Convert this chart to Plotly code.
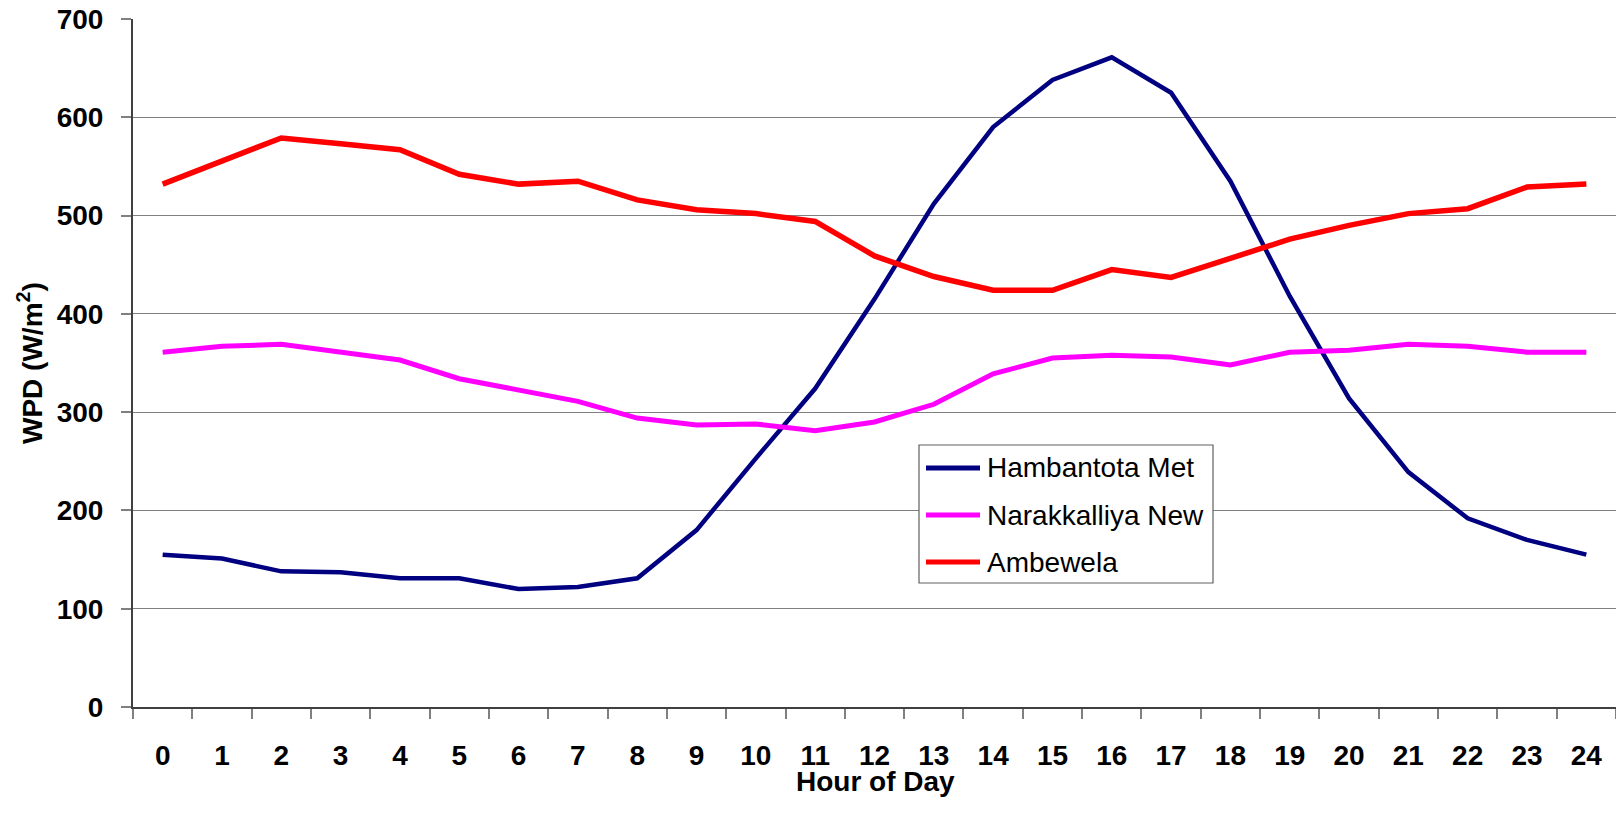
import plotly.graph_objects as go

# Hourly mean wind power density at three sites
hours = [str(h) for h in range(25)]
hambantota_met = [155, 151, 138, 137, 131, 131, 120, 122, 131, 180, 253, 324, 415,
                  512, 590, 638, 661, 625, 535, 418, 314, 239, 192, 170, 155]
narakkalliya_new = [361, 367, 369, 361, 353, 334, 322, 311, 294, 287, 288, 281, 290,
                    308, 339, 355, 358, 356, 348, 361, 363, 369, 367, 361, 361]
ambewela = [532, 556, 579, 573, 567, 542, 532, 535, 516, 506, 502, 494, 459,
            438, 424, 424, 445, 437, 457, 476, 490, 502, 507, 529, 532]

series_names = ["Hambantota Met", "Narakkalliya New", "Ambewela"]
series_colors = ["#000080", "#FF00FF", "#FF0000"]
series_widths = [4.5, 5, 5.5]
y_ticks = [0, 100, 200, 300, 400, 500, 600, 700]

W, H = 1616, 829
L, R, T, B = 133, 0, 19, 122
FONT = "Liberation Sans, Arial, sans-serif"


def px_x(p):
    return (p - L) / (W - L - R)


def px_y(p):
    return (H - B - p) / (H - T - B)


fig = go.Figure()
for name, vals, col, lw in zip(series_names,
                               [hambantota_met, narakkalliya_new, ambewela],
                               series_colors, series_widths):
    fig.add_trace(go.Scatter(x=hours, y=vals, mode="lines", name=name,
                             line=dict(color=col, width=lw), showlegend=False))

# Boxed key inside the plot area
shapes = [dict(type="rect", xref="paper", yref="paper",
               x0=px_x(919), x1=px_x(1213), y0=px_y(583), y1=px_y(445),
               line=dict(color="#606060", width=1.2), fillcolor="white", layer="above")]
annotations = []
row_y = [468, 515, 562]
for name, col, ry in zip(series_names, series_colors, row_y):
    shapes.append(dict(type="line", xref="paper", yref="paper",
                       x0=px_x(926), x1=px_x(980), y0=px_y(ry), y1=px_y(ry),
                       line=dict(color=col, width=5), layer="above"))
    annotations.append(dict(text=name, xref="paper", yref="paper",
                            x=px_x(985), y=px_y(ry), xanchor="left", yanchor="middle",
                            showarrow=False, font=dict(family=FONT, size=28, color="black")))

annotations.append(dict(text="WPD (W/m<sup>2</sup>)", xref="paper", yref="paper",
                        x=px_x(30), y=px_y(363), textangle=-90,
                        xanchor="center", yanchor="middle", showarrow=False,
                        font=dict(family=FONT, size=28, color="black", weight="bold")))
annotations.append(dict(text="Hour of Day", xref="paper", yref="paper",
                        x=px_x(875), y=px_y(781), xanchor="center", yanchor="middle",
                        showarrow=False,
                        font=dict(family=FONT, size=28, color="black", weight="bold")))

fig.update_layout(
    width=W, height=H,
    margin=dict(l=L, r=R, t=T, b=B, pad=0),
    paper_bgcolor="white", plot_bgcolor="white",
    shapes=shapes, annotations=annotations,
    xaxis=dict(type="category", range=[-0.5, 24.5], tickson="boundaries",
               ticks="outside", ticklen=10, tickwidth=1.5, tickcolor="#808080",
               showline=True, linecolor="#404040", linewidth=2,
               showgrid=False, zeroline=False, ticklabelstandoff=22,
               tickfont=dict(family=FONT, size=28, color="black", weight="bold")),
    yaxis=dict(range=[0, 700], tickvals=y_ticks, ticks="outside", ticklen=10,
               tickwidth=1.5, tickcolor="#808080",
               showline=True, linecolor="#404040", linewidth=2,
               showgrid=True, gridcolor="#808080", gridwidth=1, zeroline=False,
               ticklabelstandoff=12,
               tickfont=dict(family=FONT, size=28, color="black", weight="bold")),
)

fig.write_html("out.html")
